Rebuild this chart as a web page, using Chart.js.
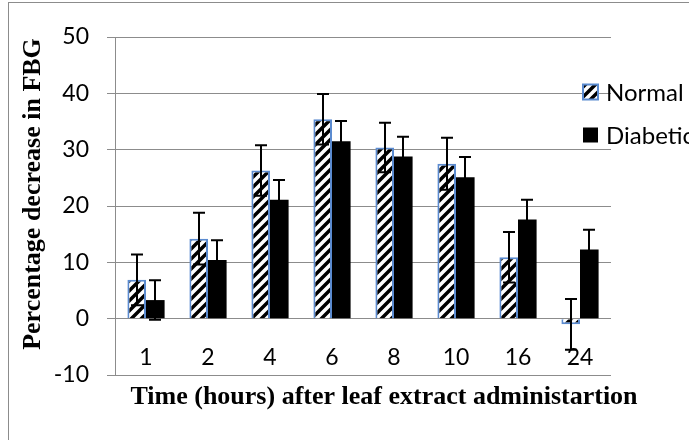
<!DOCTYPE html>
<html>
<head>
<meta charset="utf-8">
<script src="https://cdn.jsdelivr.net/npm/chart.js@4.4.1/dist/chart.umd.min.js"></script>
<style>
    html, body { margin: 0; padding: 0; background: #fff; overflow: hidden; }
    #wrap { width: 689px; height: 440px; overflow: hidden; }
    canvas { display: block; }
</style>
</head>
<body>
<div id="wrap"><canvas id="chart" width="720" height="440"></canvas></div>
<script>
// values
const categories = ['1', '2', '4', '6', '8', '10', '16', '24'];
const normalValues = [6.9, 14.2, 26.3, 35.4, 30.4, 27.5, 10.9, -1.0];
const normalErrors = [4.5, 4.6, 4.5, 4.5, 4.4, 4.6, 4.5, 4.5];
const diabeticValues = [3.3, 10.4, 21.1, 31.5, 28.8, 25.1, 17.6, 12.3];
const diabeticErrors = [3.5, 3.5, 3.5, 3.6, 3.5, 3.6, 3.5, 3.5];
const yMin = -10;
const yMax = 50;
const yStep = 10;
const xTitle = 'Time (hours) after leaf extract administartion';
const yTitle = 'Percentage decrease in FBG';

const gridColor = '#8c8c8c';
const tickFont = { family: 'Lato', size: 23 };
const titleFont = 'bold 26px "Liberation Serif"';

function makeHatch() {
    const s = 10;
    const tile = document.createElement('canvas');
    tile.width = s;
    tile.height = s;
    const c = tile.getContext('2d');
    c.fillStyle = '#fff';
    c.fillRect(0, 0, s, s);
    c.strokeStyle = '#000';
    c.lineWidth = 3.5;
    c.beginPath();
    c.moveTo(0, s); c.lineTo(s, 0);
    c.moveTo(-2, 2); c.lineTo(2, -2);
    c.moveTo(s - 2, s + 2); c.lineTo(s + 2, s - 2);
    c.stroke();
    return c.createPattern(tile, 'repeat');
}

const errorBars = {
    id: 'errorBars',
    afterDatasetsDraw(chart) {
        const { ctx } = chart;
        const y = chart.scales.y;
        ctx.save();
        ctx.strokeStyle = '#000';
        ctx.lineWidth = 2;
        chart.data.datasets.forEach((ds, i) => {
            chart.getDatasetMeta(i).data.forEach((bar, j) => {
                const v = ds.data[j];
                const e = ds.errors[j];
                const top = y.getPixelForValue(v + e);
                const bottom = y.getPixelForValue(v - e);
                const x = Math.round(bar.x);
                ctx.beginPath();
                ctx.moveTo(x, top); ctx.lineTo(x, bottom);
                ctx.moveTo(x - 6, top); ctx.lineTo(x + 6, top);
                ctx.moveTo(x - 6, bottom); ctx.lineTo(x + 6, bottom);
                ctx.stroke();
            });
        });
        ctx.restore();
    }
};

const decorations = {
    id: 'decorations',
    afterDraw(chart) {
        const { ctx, chartArea } = chart;
        ctx.save();
        // outer frame
        ctx.strokeStyle = gridColor;
        ctx.lineWidth = 1;
        ctx.strokeRect(8.5, 2.5, 900, 900);

        // axis titles
        ctx.fillStyle = '#000';
        ctx.font = titleFont;
        ctx.textAlign = 'center';
        ctx.textBaseline = 'alphabetic';
        ctx.fillText(xTitle, 384, 404);
        ctx.save();
        ctx.translate(40, 194);
        ctx.rotate(-Math.PI / 2);
        ctx.fillText(yTitle, 0, 0);
        ctx.restore();

        // legend
        const lx = chartArea.right - 28;
        const rows = [92, 135];
        ctx.font = `${tickFont.size + 1}px ${tickFont.family}`;
        ctx.textAlign = 'left';
        ctx.textBaseline = 'middle';
        chart.data.datasets.forEach((ds, i) => {
            const cy = rows[i];
            ctx.fillStyle = ds.backgroundColor;
            ctx.fillRect(lx, cy - 7.5, 15, 15);
            if (ds.borderWidth) {
                ctx.strokeStyle = ds.borderColor;
                ctx.lineWidth = 2;
                ctx.strokeRect(lx, cy - 7.5, 15, 15);
            }
            ctx.fillStyle = '#000';
            ctx.fillText(ds.label, lx + 23, cy + 1);
        });
        ctx.restore();
    }
};

function draw() {
    const canvas = document.getElementById('chart');
    new Chart(canvas, {
        type: 'bar',
        data: {
            labels: categories,
            datasets: [{
                label: 'Normal',
                data: normalValues,
                errors: normalErrors,
                backgroundColor: makeHatch(),
                borderColor: '#5b8bd0',
                borderWidth: 2,
                categoryPercentage: 0.6,
                barPercentage: 1
            }, {
                label: 'Diabetic',
                data: diabeticValues,
                errors: diabeticErrors,
                backgroundColor: '#000',
                borderWidth: 0,
                categoryPercentage: 0.6,
                barPercentage: 1
            }]
        },
        options: {
            responsive: false,
            animation: false,
            layout: { padding: { left: 0, top: 37, right: 109, bottom: 65 } },
            plugins: {
                legend: { display: false },
                tooltip: { enabled: false }
            },
            scales: {
                x: {
                    position: { y: 0 },
                    grid: { display: false },
                    border: { display: false },
                    ticks: { color: '#000', font: tickFont, padding: 17, maxRotation: 0 }
                },
                y: {
                    min: yMin,
                    max: yMax,
                    ticks: { stepSize: yStep, color: '#000', font: tickFont, padding: 18 },
                    grid: { color: gridColor, lineWidth: 1, tickLength: 8 },
                    border: { color: gridColor, width: 1 },
                    afterFit(scale) { scale.width = 115; }
                }
            }
        },
        plugins: [errorBars, decorations]
    });
}

Promise.all([
    document.fonts.load('23px Lato'),
    document.fonts.load(titleFont)
]).then(draw, draw);
</script>
</body>
</html>
